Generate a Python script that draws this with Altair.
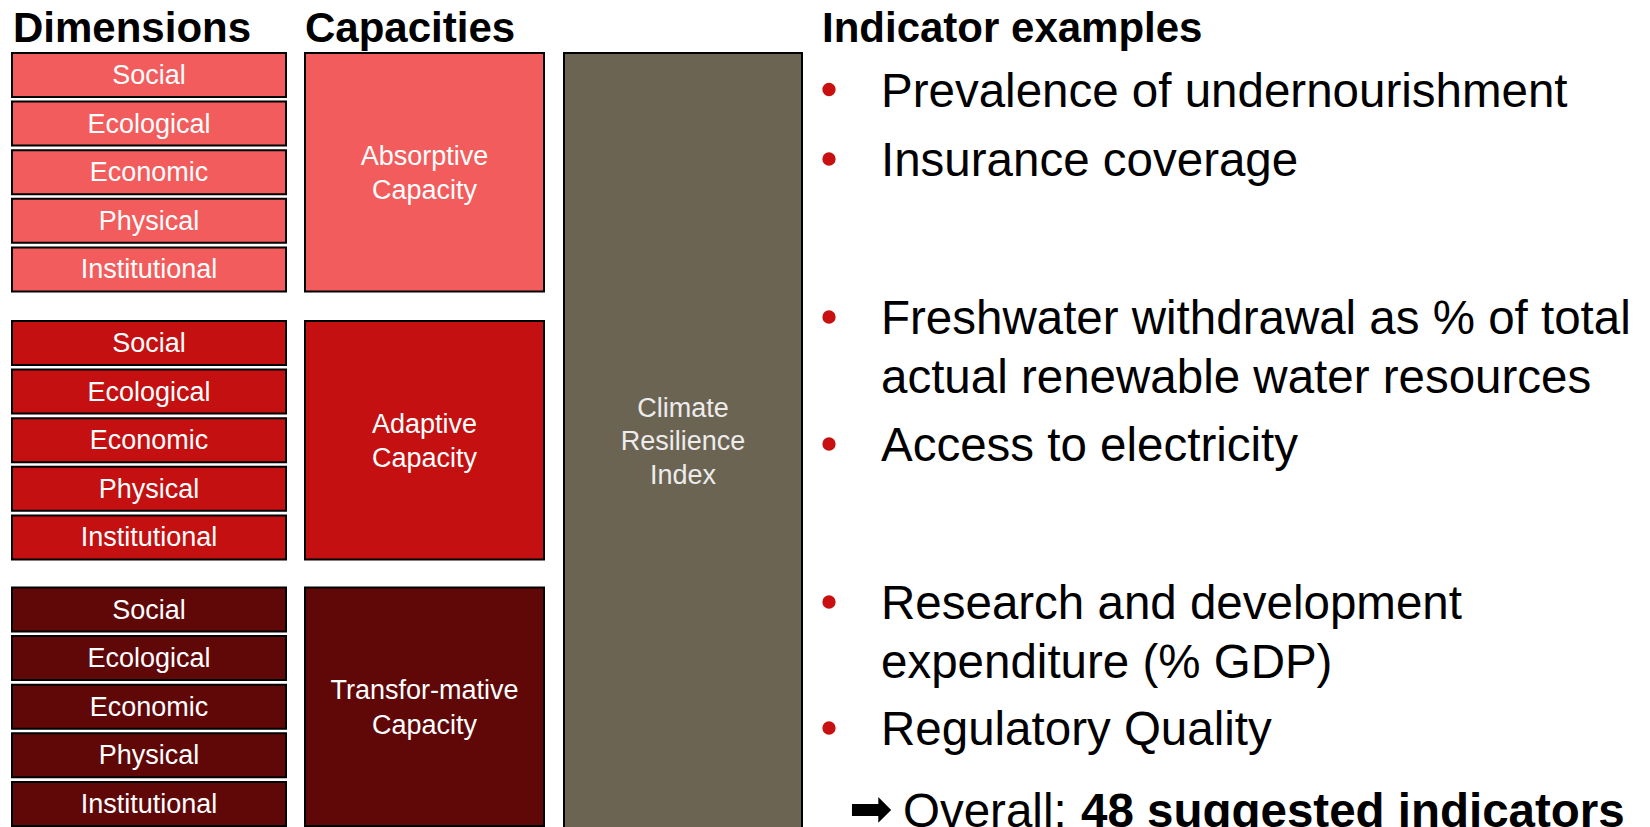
import altair as alt
import pandas as pd

# ---------------- data ----------------
dimensions = ["Social", "Ecological", "Economic", "Physical", "Institutional"]
capacities = ["Absorptive\nCapacity", "Adaptive\nCapacity", "Transfor-mative\nCapacity"]
capacity_colors = ["#F35C5C", "#C41010", "#600808"]
index_label = "Climate\nResilience\nIndex"
index_color = "#6C6453"
headers = ["Dimensions", "Capacities", "Indicator examples"]
indicators = [
    ["Prevalence of undernourishment"],
    ["Insurance coverage"],
    ["Freshwater withdrawal as % of total", "actual renewable water resources"],
    ["Access to electricity"],
    ["Research and development", "expenditure (% GDP)"],
    ["Regulatory Quality"],
]
summary_arrow = "\u27A1"
summary_prefix = "Overall:"
summary_bold = "48 suggested indicators"

# ---------------- layout (page pixels) ----------------
W, H = 1634, 819
OFF = 8
dim_x = (12, 286)
cap_x = (305, 544)
idx_x = (564, 802)
group_top = [53, 321, 587.5]
box_pitch = 48.6
box_h = 44
group_h = 4 * box_pitch + box_h
idx_y = (53, 900)
idx_center = 442
header_x = [13, 305, 822]
header_baseline = 42
bullet_x = 829
text_x = 881
item_center = [89.5, 159, 317, 444, 602, 728]
wrap_gap = 58.5
cap_to_base = 17
summary_arrow_x = 849
summary_x = 903
summary_bold_x = 1081
summary_baseline = 827
small_lh = 34.5

SANS = "Liberation Sans, Arial, Helvetica, sans-serif"

xs = alt.Scale(domain=[OFF, OFF + W], range=[0, W], nice=False, zero=False)
ys = alt.Scale(domain=[OFF, OFF + H], range=[0, H], nice=False, zero=False)


def X(f="x"):
    return alt.X(f"{f}:Q", scale=xs, axis=None)


def Y(f="y"):
    return alt.Y(f"{f}:Q", scale=ys, axis=None)


def first_line_y(center, label, lh):
    n = label.count("\n") + 1
    return center - (n - 1) * lh / 2


# dimension boxes
dim_rows = []
for gi in range(len(capacities)):
    for di, dim in enumerate(dimensions):
        top = group_top[gi] + di * box_pitch
        dim_rows.append(dict(x=dim_x[0], x2=dim_x[1], y=top, y2=top + box_h,
                             fill=capacity_colors[gi], label=dim,
                             cx=(dim_x[0] + dim_x[1]) / 2, cy=top + box_h / 2 + 1))
dim_df = pd.DataFrame(dim_rows)

cap_rows = []
for gi, cap in enumerate(capacities):
    top = group_top[gi]
    cap_rows.append(dict(x=cap_x[0], x2=cap_x[1], y=top, y2=top + group_h,
                         fill=capacity_colors[gi], label=cap,
                         cx=(cap_x[0] + cap_x[1]) / 2,
                         cy=first_line_y(top + group_h / 2 + 2, cap, small_lh)))
cap_df = pd.DataFrame(cap_rows)

idx_df = pd.DataFrame([dict(x=idx_x[0], x2=idx_x[1], y=idx_y[0], y2=idx_y[1],
                            fill=index_color, label=index_label,
                            cx=(idx_x[0] + idx_x[1]) / 2,
                            cy=first_line_y(idx_center, index_label, 33.5))])

box_df = pd.concat([dim_df, cap_df, idx_df], ignore_index=True)

boxes = alt.Chart(box_df).mark_rect(stroke="black", strokeWidth=2).encode(
    x=X("x"), x2="x2", y=Y("y"), y2="y2",
    color=alt.Color("fill:N", scale=None),
)

dim_text = alt.Chart(dim_df).mark_text(
    align="center", baseline="middle", font=SANS, fontSize=27, color="white"
).encode(x=X("cx"), y=Y("cy"), text="label:N")

cap_text = alt.Chart(cap_df).mark_text(
    align="center", baseline="middle", font=SANS, fontSize=27, color="white",
    lineBreak="\n", lineHeight=small_lh
).encode(x=X("cx"), y=Y("cy"), text="label:N")

idx_text = alt.Chart(idx_df).mark_text(
    align="center", baseline="middle", font=SANS, fontSize=27, color="#ECECEC",
    lineBreak="\n", lineHeight=33.5
).encode(x=X("cx"), y=Y("cy"), text="label:N")

head_df = pd.DataFrame(dict(x=header_x, y=[header_baseline] * 3, label=headers))
head_text = alt.Chart(head_df).mark_text(
    align="left", baseline="alphabetic", font=SANS, fontSize=42,
    fontWeight="bold", color="black"
).encode(x=X("x"), y=Y("y"), text="label:N")

bul_df = pd.DataFrame(dict(x=[bullet_x] * len(item_center), y=item_center))
bullets = alt.Chart(bul_df).mark_circle(size=177, color="#C81010", opacity=1).encode(
    x=X("x"), y=Y("y"))

line_rows = []
for k, item in enumerate(indicators):
    for li, line in enumerate(item):
        line_rows.append(dict(x=text_x, y=item_center[k] + cap_to_base + li * wrap_gap,
                              label=line))
line_df = pd.DataFrame(line_rows)
ind_text = alt.Chart(line_df).mark_text(
    align="left", baseline="alphabetic", font=SANS, fontSize=47.5, color="black"
).encode(x=X("x"), y=Y("y"), text="label:N")

sum_df = pd.DataFrame([dict(x=summary_x, y=summary_baseline, label=summary_prefix)])
sum_text = alt.Chart(sum_df).mark_text(
    align="left", baseline="alphabetic", font=SANS, fontSize=47.5, color="black"
).encode(x=X("x"), y=Y("y"), text="label:N")

sumb_df = pd.DataFrame([dict(x=summary_bold_x, y=summary_baseline, label=summary_bold)])
sumb_text = alt.Chart(sumb_df).mark_text(
    align="left", baseline="alphabetic", font=SANS, fontSize=47.5,
    fontWeight="bold", color="black"
).encode(x=X("x"), y=Y("y"), text="label:N")

arr_df = pd.DataFrame([dict(x=summary_arrow_x, y=summary_baseline - 1, label=summary_arrow)])
arr_text = alt.Chart(arr_df).mark_text(
    align="left", baseline="alphabetic", font="DejaVu Sans", fontSize=52,
    color="black"
).encode(x=X("x"), y=Y("y"), text="label:N")

chart = alt.layer(
    boxes, dim_text, cap_text, idx_text, head_text, bullets, ind_text,
    sum_text, sumb_text, arr_text
).properties(
    width=W, height=H, padding=0, background="white",
    autosize=alt.AutoSizeParams(type="none"),
).configure_view(strokeWidth=0)

chart.save("out.html", embed_options={"renderer": "svg", "actions": False})
